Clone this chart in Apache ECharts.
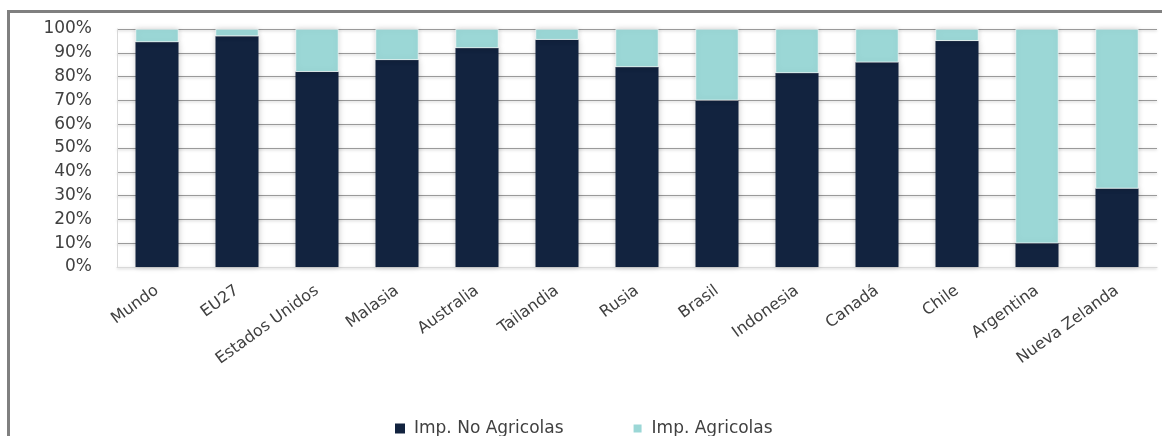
<!DOCTYPE html>
<html>
<head>
<meta charset="utf-8">
<script src="https://cdn.jsdelivr.net/npm/echarts@6/dist/echarts.min.js"></script>
<style>html,body{margin:0;padding:0;background:#fff;}#c{width:1162px;height:436px;}</style>
</head>
<body>
<div id="c"></div>
<script>
const categories = ['Mundo','EU27','Estados Unidos','Malasia','Australia','Tailandia','Rusia','Brasil','Indonesia','Canadá','Chile','Argentina','Nueva Zelanda'];
const noAgricolas = [94.5, 97, 82, 87, 92, 95.5, 84, 70, 81.5, 86, 95, 10, 33];
const agricolas = [5.5, 3, 18, 13, 8, 4.5, 16, 30, 18.5, 14, 5, 90, 67];
const seriesNames = ['Imp. No Agricolas', 'Imp. Agricolas'];

const chart = echarts.init(document.getElementById('c'));
const font = 'DejaVu Sans';
chart.setOption({
  animation: false,
  graphic: [{
    type: 'rect', silent: true,
    shape: {x: 8.5, y: 11.5, width: 1170, height: 440},
    style: {fill: 'none', stroke: '#808080', lineWidth: 3}
  }],
  grid: {left: 117, right: 5, top: 29, bottom: 169},
  legend: {
    top: 415, left: 390, itemWidth: 10, itemHeight: 10, itemGap: 68,
    icon: 'rect',
    textStyle: {fontFamily: font, fontSize: 17, color: '#404040', padding: [0, 0, 0, 4]},
    data: seriesNames
  },
  xAxis: {
    type: 'category', data: categories,
    axisLine: {lineStyle: {color: '#d9d9d9'}},
    axisTick: {show: false},
    axisLabel: {rotate: 36, interval: 0, fontFamily: font, fontSize: 16, color: '#404040', margin: 22},
    splitLine: {show: false}
  },
  yAxis: {
    type: 'value', min: 0, max: 100, interval: 10,
    axisLine: {show: true, lineStyle: {color: '#d9d9d9'}},
    axisTick: {show: false},
    axisLabel: {formatter: '{value}%', fontFamily: font, fontSize: 17, color: '#404040', margin: 25},
    splitLine: {lineStyle: {color: '#9a9a9a', width: 1, shadowColor: 'rgba(0,0,0,0.25)', shadowBlur: 3, shadowOffsetY: 1}}
  },
  series: [
    {
      name: seriesNames[0], type: 'bar', stack: 'a', data: noAgricolas, barWidth: 43,
      itemStyle: {color: '#12233f', shadowColor: 'rgba(0,0,0,0.22)', shadowBlur: 6}
    },
    {
      name: seriesNames[1], type: 'bar', stack: 'a', data: agricolas, barWidth: 43,
      itemStyle: {color: '#9bd7d6', borderColor: '#ffffff', borderWidth: 0.6, shadowColor: 'rgba(0,0,0,0.18)', shadowBlur: 6}
    }
  ]
});
</script>
</body>
</html>
